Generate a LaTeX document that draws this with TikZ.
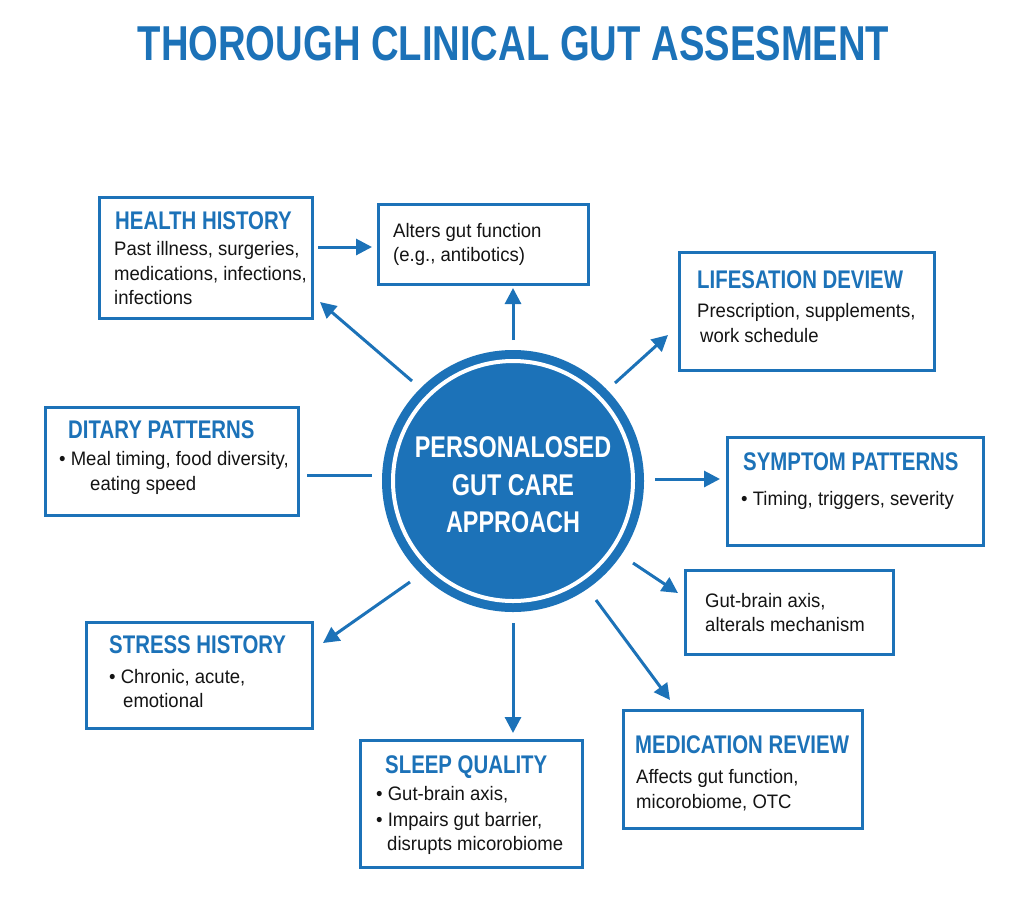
\documentclass[tikz,border=0pt]{standalone}
\usepackage{fontspec}
\setmainfont{Liberation Sans}
\newfontfamily\tfont[FakeStretch=0.78]{Liberation Sans}
\newfontfamily\hfont[FakeStretch=0.80]{Liberation Sans}
\newfontfamily\bfnt[FakeStretch=0.95]{Liberation Sans}
\usetikzlibrary{arrows.meta}
\definecolor{gblue}{RGB}{28,114,184}
\definecolor{btext}{RGB}{20,20,20}
\begin{document}
\begin{tikzpicture}[x=1pt,y=-1pt,
  box/.style={draw=gblue, line width=3pt, inner sep=0pt, fill=white},
  head/.style={anchor=base west, inner sep=0pt, font=\hfont\bfseries\fontsize{25.5}{30}\selectfont, text=gblue},
  body/.style={anchor=base west, inner sep=0pt, font=\bfnt\fontsize{19.5}{24.5}\selectfont, text=btext},
  ctext/.style={anchor=base, inner sep=0pt, font=\tfont\bfseries\fontsize{30}{37}\selectfont, text=white},
  arr/.style={draw=gblue, line width=3pt, -{Triangle[length=16pt,width=16pt]}},
  ln/.style={draw=gblue, line width=3pt}]
\useasboundingbox (0,0) rectangle (1024,897);
\fill[white] (0,0) rectangle (1024,897);

% title
\node[anchor=base, inner sep=0pt, font=\tfont\bfseries\fontsize{49}{55}\selectfont, text=gblue] (title) at (513.5,60) {THOROUGH CLINICAL GUT ASSESMENT};

% central circle
\node[circle, fill=gblue, minimum size=262pt, inner sep=0pt] (circ) at (513,481) {};
\node[circle, draw=white, line width=4pt, minimum size=240pt, inner sep=0pt] (ring) at (513,481) {};
\node[ctext] (c1) at (513,457) {PERSONALOSED};
\node[ctext] (c2) at (513,495) {GUT CARE};
\node[ctext] (c3) at (513,532) {APPROACH};

% boxes
\node[box, minimum width=213pt, minimum height=121pt] (hh) at (205.5,257.5) {};
\node[box, minimum width=210pt, minimum height=80pt] (alt) at (483,244) {};
\node[box, minimum width=255pt, minimum height=118pt] (life) at (806.5,311) {};
\node[box, minimum width=253pt, minimum height=108pt] (diet) at (171.5,461) {};
\node[box, minimum width=256pt, minimum height=108pt] (sym) at (855,491) {};
\node[box, minimum width=208pt, minimum height=84pt] (gb) at (789,612) {};
\node[box, minimum width=239pt, minimum height=118pt] (med) at (742.5,769) {};
\node[box, minimum width=226pt, minimum height=106pt] (str) at (199,675) {};
\node[box, minimum width=222pt, minimum height=127pt] (slp) at (471,803.5) {};

% health history
\node[head] (hht) at (115,229) {HEALTH HISTORY};
\node[body] (hh1) at (114,255) {Past illness, surgeries,};
\node[body] (hh2) at (114,280) {medications, infections,};
\node[body] (hh3) at (114,304) {infections};

% alters
\node[body] (al1) at (393,237) {Alters gut function};
\node[body] (al2) at (393,261) {(e.g., antibotics)};

% lifesation
\node[head] (lft) at (697,288) {LIFESATION DEVIEW};
\node[body] (lf1) at (697,317) {Prescription, supplements,};
\node[body] (lf2) at (700,342) {work schedule};

% dietary
\node[head] (dt) at (68,438) {DITARY PATTERNS};
\node[body] (d1) at (59,465) {• Meal timing, food diversity,};
\node[body] (d2) at (90,490) {eating speed};

% symptom
\node[head] (st) at (743,470) {SYMPTOM PATTERNS};
\node[body] (s1) at (741,505) {• Timing, triggers, severity};

% gut-brain
\node[body] (g1) at (705,607) {Gut-brain axis,};
\node[body] (g2) at (705,631) {alterals mechanism};

% stress
\node[head] (srt) at (109,653) {STRESS HISTORY};
\node[body] (sr1) at (109,683) {• Chronic, acute,};
\node[body] (sr2) at (123,707) {emotional};

% sleep
\node[head] (slt) at (385,773) {SLEEP QUALITY};
\node[body] (sl1) at (376,800) {• Gut-brain axis,};
\node[body] (sl2) at (376,826) {• Impairs gut barrier,};
\node[body] (sl3) at (387,850) {disrupts micorobiome};

% medication
\node[head] (mdt) at (635,753) {MEDICATION REVIEW};
\node[body] (md1) at (636,783) {Affects gut function,};
\node[body] (md2) at (636,808) {micorobiome, OTC};

% connector end points
\coordinate (pHHa) at (318,247);  \coordinate (pHHb) at (372,247);
\coordinate (pALa) at (513,340);  \coordinate (pALb) at (513,288);
\coordinate (pHa)  at (412,381);  \coordinate (pHb)  at (320,302);
\coordinate (pLa)  at (615,383);  \coordinate (pLb)  at (668,335);
\coordinate (pSa)  at (655,479);  \coordinate (pSb)  at (720,479);
\coordinate (pGa)  at (633,563);  \coordinate (pGb)  at (678,593);
\coordinate (pMa)  at (596,600);  \coordinate (pMb)  at (670,700);
\coordinate (pTa)  at (410,582);  \coordinate (pTb)  at (323,643);
\coordinate (pQa)  at (513,623);  \coordinate (pQb)  at (513,733);
\coordinate (pDa)  at (307,475);  \coordinate (pDb)  at (372,475);

\draw[arr] (pHHa) -- (pHHb);
\draw[arr] (pALa) -- (pALb);
\draw[arr] (pHa) -- (pHb);
\draw[arr] (pLa) -- (pLb);
\draw[arr] (pSa) -- (pSb);
\draw[arr] (pGa) -- (pGb);
\draw[arr] (pMa) -- (pMb);
\draw[arr] (pTa) -- (pTb);
\draw[arr] (pQa) -- (pQb);
\draw[ln] (pDa) -- (pDb);
\end{tikzpicture}
\end{document}
